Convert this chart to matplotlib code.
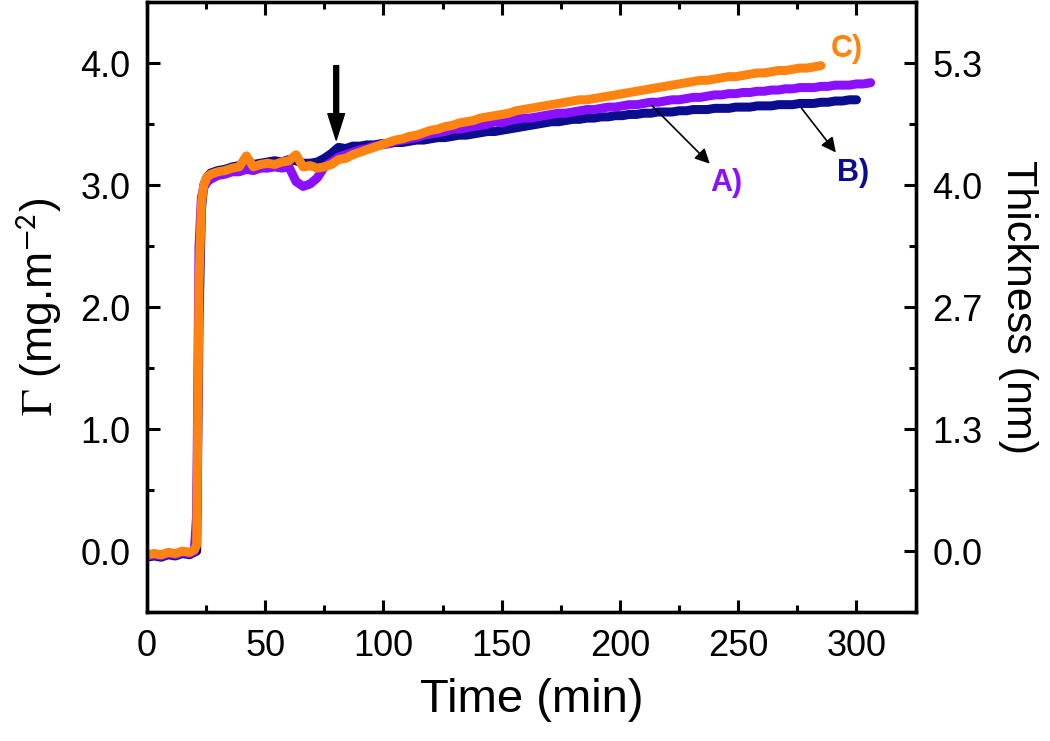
import matplotlib
matplotlib.use("Agg")
import matplotlib.pyplot as plt
from matplotlib.ticker import MultipleLocator, FormatStrFormatter

plt.rcParams['font.family'] = ['Liberation Sans', 'DejaVu Sans']
plt.rcParams['mathtext.fontset'] = 'stix'

# sampling times (min): coarse baseline, fine around injection, then every 3 min
t_min = [0, 3, 6, 9, 12, 15, 18, 20, 21, 22, 23, 24, 25.5] + list(range(27, 307, 3))

# adsorbed amount Gamma (mg/m2) for the three runs
gamma_A = [-0.04, -0.03, -0.04, -0.02, -0.03, -0.01, -0.02, 0.00,
           0.30, 2.50, 2.90, 2.98, 3.03,
           3.05, 3.08, 3.09, 3.11, 3.11, 3.13, 3.12, 3.14, 3.14, 3.15, 3.14, 3.15,
           3.03, 2.99, 3.01, 3.06, 3.15, 3.19, 3.23, 3.25, 3.27, 3.29, 3.30, 3.32, 3.33,
           3.34, 3.36, 3.37, 3.38, 3.39, 3.41, 3.42, 3.43, 3.44, 3.46,
           3.46, 3.47, 3.48, 3.49, 3.50, 3.52, 3.51, 3.53, 3.54, 3.55,
           3.55, 3.56, 3.57, 3.58, 3.59, 3.59, 3.60, 3.61, 3.62, 3.62,
           3.63, 3.64, 3.64, 3.65, 3.66, 3.66, 3.67, 3.68, 3.68, 3.69,
           3.70, 3.70, 3.71, 3.72, 3.72, 3.73, 3.74, 3.74, 3.75, 3.75,
           3.76, 3.76, 3.77, 3.77, 3.78, 3.78, 3.79, 3.79, 3.80, 3.80,
           3.80, 3.81, 3.81, 3.82, 3.82, 3.82, 3.83, 3.83, 3.84]

gamma_B = [-0.05, -0.04, -0.05, -0.03, -0.04, -0.02, -0.03, -0.01,
           0.00, 1.90, 2.80, 3.00, 3.07,
           3.10, 3.12, 3.13, 3.15, 3.16, 3.17, 3.17, 3.18, 3.19, 3.20, 3.19, 3.21,
           3.20, 3.18, 3.18, 3.19, 3.22, 3.26, 3.31, 3.30, 3.32, 3.32, 3.33, 3.33, 3.34,
           3.34, 3.35, 3.35, 3.36, 3.37, 3.37, 3.38, 3.39, 3.39, 3.40,
           3.41, 3.41, 3.42, 3.43, 3.44, 3.44, 3.45, 3.46, 3.47, 3.48,
           3.49, 3.50, 3.51, 3.52, 3.52, 3.53, 3.54, 3.54, 3.55, 3.55,
           3.56, 3.56, 3.57, 3.57, 3.58, 3.58, 3.59, 3.59, 3.60, 3.60,
           3.60, 3.61, 3.61, 3.62, 3.62, 3.62, 3.63, 3.63, 3.63, 3.64,
           3.64, 3.64, 3.65, 3.65, 3.65, 3.66, 3.66, 3.66, 3.67, 3.67,
           3.67, 3.68, 3.68, 3.69, 3.69, 3.70, 3.70]

gamma_C = [-0.03, -0.02, -0.03, -0.01, -0.02, 0.00, -0.01, 0.01,
           0.05, 2.20, 2.85, 3.00, 3.07,
           3.09, 3.11, 3.12, 3.14, 3.15, 3.24, 3.15, 3.17, 3.18, 3.17, 3.19, 3.20,
           3.25, 3.15, 3.16, 3.14, 3.15, 3.17, 3.21, 3.22, 3.25, 3.27, 3.29, 3.31, 3.33,
           3.35, 3.37, 3.38, 3.40, 3.41, 3.43, 3.45, 3.46, 3.48, 3.49,
           3.51, 3.52, 3.53, 3.55, 3.56, 3.57, 3.58, 3.59, 3.61, 3.62,
           3.63, 3.64, 3.65, 3.66, 3.67, 3.68, 3.69, 3.70, 3.70, 3.71,
           3.72, 3.73, 3.74, 3.75, 3.76, 3.77, 3.78, 3.79, 3.80, 3.81,
           3.82, 3.83, 3.84, 3.85, 3.86, 3.86, 3.87, 3.88, 3.89, 3.89,
           3.90, 3.91, 3.92, 3.92, 3.93, 3.94, 3.94, 3.95, 3.96, 3.96,
           3.97, 3.98]

gamma_ticks = [0, 1, 2, 3, 4]
thickness_labels = ['0.0', '1.3', '2.7', '4.0', '5.3']

col_A = '#8A10FF'
col_B = '#0C0C8E'
col_C = '#FF8311'

fig = plt.figure(figsize=(10.5, 7.41), dpi=100)
ax = fig.add_axes([0.140, 0.174, 0.732, 0.823])

for g, c in [(gamma_B, col_B), (gamma_A, col_A), (gamma_C, col_C)]:
    ax.plot(t_min[:len(g)], g, color=c, lw=6.5, solid_joinstyle='round',
            solid_capstyle='round')

ax.set_xlim(0, 325)
ax.set_ylim(-0.5, 4.5)
ax.xaxis.set_major_locator(MultipleLocator(50))
ax.xaxis.set_minor_locator(MultipleLocator(25))
ax.set_yticks(gamma_ticks)
ax.yaxis.set_minor_locator(MultipleLocator(0.5))
ax.yaxis.set_major_formatter(FormatStrFormatter('%.1f'))
ax.tick_params(which='both', direction='in', width=2.2, top=True, labelsize=26)
ax.tick_params(which='major', length=9, pad=12)
ax.tick_params(which='minor', length=5)

ax2 = ax.twinx()
ax2.set_ylim(-0.5, 4.5)
ax2.set_yticks(gamma_ticks)
ax2.set_yticklabels(thickness_labels)
ax2.yaxis.set_minor_locator(MultipleLocator(0.5))
ax2.tick_params(which='both', direction='in', width=2.2, labelsize=26)
ax2.tick_params(which='major', length=9, pad=12)
ax2.tick_params(which='minor', length=5)

for a in (ax, ax2):
    for s in a.spines.values():
        s.set_linewidth(2.4)

ax.set_xlabel('Time (min)', fontsize=34, labelpad=10)
ax.set_ylabel(r'$\Gamma$ (mg.m$^{\mathsf{-2}}$)', fontsize=32, labelpad=12)
ax2.set_ylabel('Thickness (nm)', fontsize=31, rotation=270, labelpad=40)

# rinse arrow
ax.annotate('', xy=(80, 3.37), xytext=(80, 3.98),
            arrowprops=dict(facecolor='black', edgecolor='black', width=3.5,
                            headwidth=12, headlength=19, shrink=0))

# curve labels
ax.annotate('', xy=(238.8, 3.16), xytext=(212.6, 3.67),
            arrowprops=dict(arrowstyle='-|>', color='black', lw=1.2, mutation_scale=22))
ax.annotate('', xy=(292, 3.25), xytext=(276, 3.65),
            arrowprops=dict(arrowstyle='-|>', color='black', lw=1.2, mutation_scale=22))
ax.text(245, 3.02, 'A)', color=col_A, fontsize=22, fontweight='bold', ha='center', va='center')
ax.text(298.4, 3.10, 'B)', color=col_B, fontsize=22, fontweight='bold', ha='center', va='center')
ax.text(296, 4.12, 'C)', color=col_C, fontsize=22, fontweight='bold', ha='center', va='center')

fig.savefig('out.png', dpi=100)
